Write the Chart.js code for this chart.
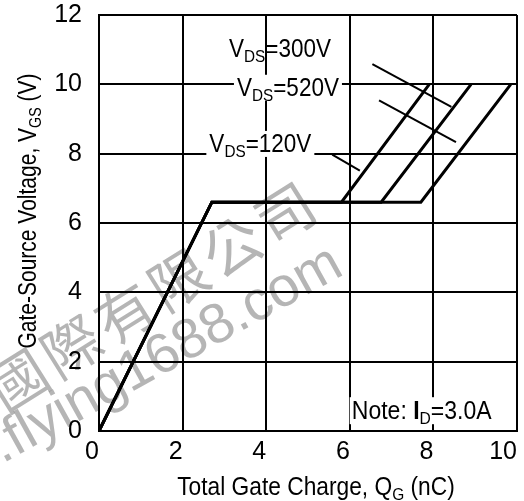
<!DOCTYPE html>
<html>
<head>
<meta charset="utf-8">
<script src="https://cdn.jsdelivr.net/npm/chart.js@4/dist/chart.umd.min.js"></script>
<style>
body { margin: 0; background: #fff; }
</style>
</head>
<body>
<canvas id="gateChart" width="524" height="501"></canvas>
<script>
// gate charge curves
const chargeTicks = [0, 2, 4, 6, 8, 10];
const voltTicks = [0, 2, 4, 6, 8, 10, 12];
const vdsNames = ['VDS=120V', 'VDS=300V', 'VDS=520V'];
const vgs = [0, 6.6, 6.6, 10];
const charge120 = [0, 2.7, 5.8, 7.9];
const charge300 = [0, 2.7, 6.75, 8.9];
const charge520 = [0, 2.7, 7.7, 9.85];

const FONT = "'Liberation Sans', Arial, sans-serif";

function toPoints(qs) {
    return qs.map((q, i) => ({ x: q, y: vgs[i] }));
}

// text with subscript parts, parts = [[text, isSub, isBold], ...], squeezed by sx
function richText(ctx, parts, x, y, align, size, sx) {
    const subSize = Math.round(size * 0.68);
    const fontOf = p => (p[2] ? 'bold ' : '') + (p[1] ? subSize : size) + 'px ' + FONT;
    let w = 0;
    parts.forEach(p => {
        ctx.font = fontOf(p);
        w += ctx.measureText(p[0]).width;
    });
    ctx.save();
    ctx.translate(x, y);
    ctx.scale(sx, 1);
    let cx = align === 'center' ? -w / 2 : 0;
    ctx.textAlign = 'left';
    ctx.textBaseline = 'alphabetic';
    parts.forEach(p => {
        ctx.font = fontOf(p);
        ctx.fillText(p[0], cx, p[1] ? size * 0.2 : 0);
        cx += ctx.measureText(p[0]).width;
    });
    ctx.restore();
    return w * sx;
}

const annotate = {
    id: 'annotate',
    beforeDraw(chart) {
        const ctx = chart.ctx;
        // distributor watermark
        ctx.save();
        ctx.fillStyle = 'rgba(120,120,120,0.55)';
        ctx.translate(5, 414);
        ctx.rotate(-32 * Math.PI / 180);
        ctx.font = "58px 'Noto Sans CJK TC'";
        ctx.letterSpacing = '5px';
        ctx.fillText('國際有限公司', 0, 0);
        ctx.restore();
        ctx.save();
        ctx.fillStyle = 'rgba(120,120,120,0.55)';
        ctx.translate(-101, 521);
        ctx.rotate(-29 * Math.PI / 180);
        ctx.font = "56px 'Liberation Sans', Arial";
        ctx.fillText('www.flying1688.com', 0, 0);
        ctx.restore();
    },
    afterDatasetsDraw(chart) {
        const ctx = chart.ctx;
        const xs = chart.scales.x, ys = chart.scales.y;
        const px = v => xs.getPixelForValue(v);
        const py = v => ys.getPixelForValue(v);

        // leader lines from labels to curves
        const leaders = [
            [6.54, 10.58, 8.43, 9.35],
            [6.70, 9.54, 8.54, 8.33],
            [5.58, 7.97, 6.24, 7.51]
        ];
        ctx.save();
        ctx.strokeStyle = '#000';
        ctx.lineWidth = 2;
        leaders.forEach(l => {
            ctx.beginPath();
            ctx.moveTo(px(l[0]), py(l[1]));
            ctx.lineTo(px(l[2]), py(l[3]));
            ctx.stroke();
        });

        const labels = [
            { name: vdsNames[1], x: 4.33, y: 11.05, box: false },
            { name: vdsNames[2], x: 4.52, y: 9.93, box: true },
            { name: vdsNames[0], x: 3.86, y: 8.31, box: true }
        ];
        labels.forEach(lb => {
            const parts = [['V', false], ['DS', true], [lb.name.slice(3), false]];
            const cx = px(lb.x), cy = py(lb.y);
            if (lb.box) {
                ctx.fillStyle = '#fff';
                ctx.fillRect(cx - 54, cy - 12, 108, 26);
            }
            ctx.fillStyle = '#000';
            richText(ctx, parts, cx, cy + 9, 'center', 25, 0.9);
        });

        // note box
        const nx = px(7.72), ny = py(0.6);
        ctx.fillStyle = '#fff';
        ctx.fillRect(nx - 72, ny - 13, 144, 27);
        ctx.fillStyle = '#000';
        richText(ctx, [['Note: ', false], ['I', false, true], ['D', true], ['=3.0A', false]], nx, ny + 9, 'center', 25, 0.92);
        ctx.restore();
    },
    afterDraw(chart) {
        const ctx = chart.ctx;
        ctx.save();
        ctx.fillStyle = '#000';
        richText(ctx, [['Total Gate Charge, Q', false], ['G', true], [' (nC)', false]], 316, 495, 'center', 25, 0.91);
        ctx.translate(36, 211);
        ctx.rotate(-Math.PI / 2);
        richText(ctx, [['Gate-Source Voltage, V', false], ['GS', true], [' (V)', false]], 0, 0, 'center', 25, 0.84);
        ctx.restore();
    }
};

const gateChart = new Chart(document.getElementById('gateChart').getContext('2d'), {
    type: 'line',
    data: {
        datasets: [
            { label: vdsNames[0], data: toPoints(charge120) },
            { label: vdsNames[1], data: toPoints(charge300) },
            { label: vdsNames[2], data: toPoints(charge520) }
        ].map(d => Object.assign(d, {
            borderColor: '#000',
            borderWidth: 3,
            pointRadius: 0,
            fill: false,
            tension: 0
        }))
    },
    options: {
        responsive: false,
        animation: false,
        layout: { padding: { top: 15, right: 7, left: 0, bottom: 0 } },
        plugins: { legend: { display: false }, tooltip: { enabled: false } },
        scales: {
            x: {
                type: 'linear',
                min: 0,
                max: 10,
                afterBuildTicks: s => { s.ticks = chargeTicks.map(v => ({ value: v })); },
                afterFit: s => { s.height = 70; s.paddingLeft = 0; s.paddingRight = 0; },
                grid: { color: '#000', lineWidth: 2, drawTicks: false },
                border: { color: '#000', width: 2 },
                ticks: { color: '#000', font: { family: FONT, size: 25 }, padding: 6, align: 'end', maxRotation: 0 }
            },
            y: {
                type: 'linear',
                min: 0,
                max: 12,
                afterBuildTicks: s => { s.ticks = voltTicks.map(v => ({ value: v })); },
                afterFit: s => { s.width = 99; s.paddingTop = 0; s.paddingBottom = 0; },
                grid: { color: '#000', lineWidth: 2, drawTicks: false },
                border: { color: '#000', width: 2 },
                ticks: { color: '#000', font: { family: FONT, size: 25 }, padding: 17 }
            }
        }
    },
    plugins: [annotate]
});
</script>
</body>
</html>
